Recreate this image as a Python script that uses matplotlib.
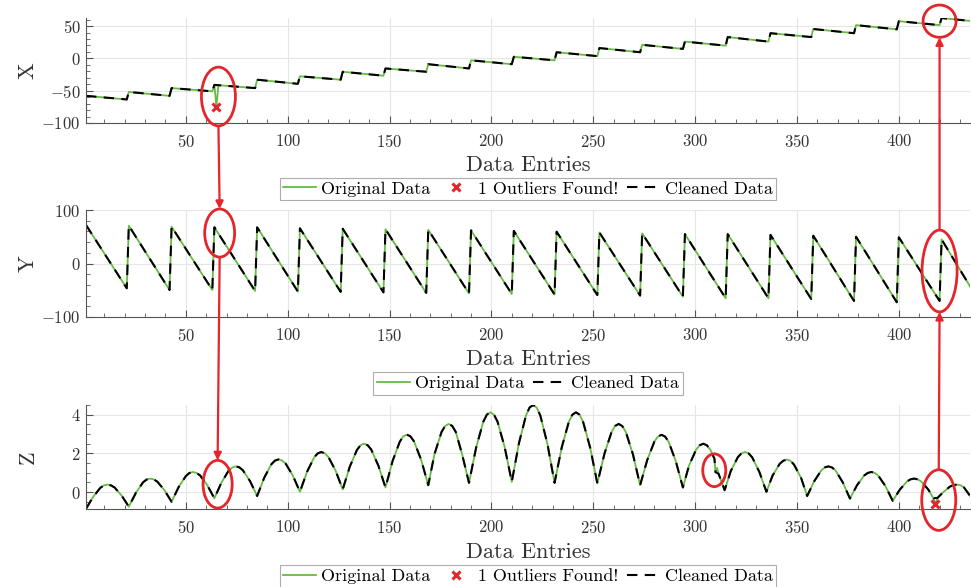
import numpy as np
import matplotlib
matplotlib.use("Agg")
import matplotlib.pyplot as plt
from matplotlib.patches import Ellipse, ConnectionPatch
from matplotlib.ticker import MultipleLocator

plt.rcParams['font.family'] = 'serif'
plt.rcParams['font.serif'] = ['cmr10', 'DejaVu Serif']
plt.rcParams['mathtext.fontset'] = 'cm'
plt.rcParams['axes.unicode_minus'] = False
plt.rcParams['axes.formatter.use_mathtext'] = True

# --- datos ---
# X: escalones, cada tramo baja un poco y luego salta
seg_start = [1, 22, 43, 64, 85, 106, 127, 148, 169, 190, 211, 232, 253, 274, 295, 316, 337, 358, 379, 400, 421]
seg_end = [21, 42, 63, 84, 105, 126, 147, 168, 189, 210, 231, 252, 273, 294, 315, 336, 357, 378, 399, 420, 435]
x_ini = [-58, -52, -46, -41, -33, -27.7, -20.7, -15.6, -9, -3, 2.5, 9.5, 16, 21, 26, 33, 39, 45.5, 51.5, 57.6, 62.5]
x_fin = [-63.6, -58, -51, -46, -39.4, -33, -26.8, -20.7, -15.6, -9, -3, 3.5, 9.5, 14.7, 19.7, 26, 33, 39, 45, 51.5, 58]
x_outlier_pos = 65
x_outlier_val = -74.7

# Y: diente de sierra
y_ini = [72, 70.7, 68.8, 67.7, 67.7, 65.8, 65, 64, 63, 62, 61, 59.5, 58, 56.4, 55, 55, 53.5, 52, 50, 49, 45]
y_fin = [-46.4, -49.5, -49.5, -51.4, -52.6, -53, -54, -55, -56, -57, -58, -59, -60, -62, -65, -65, -66.4, -70, -72.5, -70, -43]

# Z: datos originales (valles, flancos y picos)
z_x = [1, 4.5, 8, 9.75, 11.5, 13.25, 15, 18.5,
       22, 25.5, 29, 30.75, 32.5, 34.25, 36, 39.5,
       43, 46.5, 50, 51.75, 53.5, 55.25, 57, 60.5,
       64, 67.5, 71, 72.75, 74.5, 76.25, 78, 81.5,
       85, 88.5, 92, 93.75, 95.5, 97.25, 99, 102.5,
       106, 109.5, 113, 114.75, 116.5, 118.25, 120, 123.5,
       127, 130.5, 134, 135.75, 137.5, 139.25, 141, 144.5,
       148, 151.5, 155, 156.75, 158.5, 160.25, 162, 165.5,
       169, 172, 175.5, 177.25, 179, 180.75, 182.5, 185.5,
       189, 192.5, 196, 197.75, 199.5, 201.25, 203, 206.5,
       210, 213.5, 217, 218.75, 220.5, 222.25, 224, 227.5,
       231, 234.5, 238, 239.75, 241.5, 243.25, 245, 248.5,
       252, 255.5, 259, 260.75, 262.5, 264.25, 266, 269.5,
       273, 276.5, 280, 281.75, 283.5, 285.25, 287, 290.5,
       294, 297, 300.5, 302.25, 304, 305.75, 307.5, 309.5, 310, 310.8, 311.5,
       314.5, 317.5, 321, 322.75, 324.5, 326.25, 328, 331.5,
       335, 338, 341.5, 343.25, 345, 346.75, 348.5, 352,
       355, 358.5, 362, 363.75, 365.5, 367.25, 369, 372.5,
       376, 379.5, 383, 384.75, 386.5, 388.25, 390, 393.5,
       397, 400.5, 404, 405.75, 407.5, 409.25, 411, 414.5,
       417, 418, 419, 421.5, 425, 426.75, 428.5, 430.25, 432, 435]
z_orig = [-0.86, -0.24, 0.22, 0.35, 0.39, 0.35, 0.24, -0.18,
          -0.75, -0.03, 0.51, 0.65, 0.70, 0.66, 0.54, 0.10,
          -0.5, 0.27, 0.83, 0.99, 1.04, 0.99, 0.86, 0.36,
          -0.32, 0.50, 1.11, 1.27, 1.33, 1.28, 1.13, 0.57,
          -0.2, 0.75, 1.44, 1.63, 1.69, 1.63, 1.47, 0.86,
          0.02, 1.05, 1.80, 2.00, 2.07, 2.00, 1.81, 1.11,
          0.14, 1.32, 2.18, 2.42, 2.5, 2.42, 2.20, 1.37,
          0.24, 1.61, 2.60, 2.88, 2.97, 2.88, 2.62, 1.67,
          0.36, 1.94, 3.10, 3.41, 3.52, 3.42, 3.11, 2.00,
          0.48, 2.30, 3.63, 4.00, 4.12, 4.00, 3.64, 2.33,
          0.53, 2.52, 3.97, 4.37, 4.5, 4.36, 3.96, 2.49,
          0.48, 2.30, 3.63, 4.00, 4.12, 4.00, 3.63, 2.29,
          0.45, 1.99, 3.11, 3.42, 3.52, 3.41, 3.10, 1.94,
          0.36, 1.66, 2.61, 2.87, 2.96, 2.87, 2.60, 1.60,
          0.24, 1.37, 2.20, 2.42, 2.5, 2.42, 2.18, 1.72, 1.03, 1.25, 0.95,
          0.1, 1.09, 1.81, 2.00, 2.07, 2.00, 1.80, 1.05,
          0.02, 0.85, 1.46, 1.62, 1.68, 1.62, 1.43, 0.74,
          -0.2, 0.57, 1.13, 1.28, 1.33, 1.27, 1.11, 0.50,
          -0.33, 0.36, 0.86, 0.99, 1.04, 0.99, 0.84, 0.30,
          -0.45, 0.13, 0.55, 0.66, 0.70, 0.66, 0.55, 0.13,
          -0.32, -0.62, -0.30, -0.03, 0.28, 0.36, 0.39, 0.36, 0.24, -0.2]
z_pico_pos = 310.8      # pequeño pico que solo tiene la señal original
z_outlier_pos = 418
z_outlier_val = -0.62
z_outlier_limpio = -0.30

# armar los vertices de los tramos
def tramos(ini, fin):
    xs, vs = [], []
    for a, b, va, vb in zip(seg_start, seg_end, ini, fin):
        xs += [a, b]
        vs += [va, vb]
    return xs, vs

xx_clean, xv_clean = tramos(x_ini, x_fin)
k = seg_start.index(64)
xx_orig = xx_clean[:2 * k + 1] + [x_outlier_pos, x_outlier_pos + 1] + xx_clean[2 * k + 1:]
xv_orig = xv_clean[:2 * k + 1] + [x_outlier_val, x_ini[k] - 0.5] + xv_clean[2 * k + 1:]
yx, yv = tramos(y_ini, y_fin)

z_clean_x = [p for p in z_x if p != z_pico_pos]
z_clean = [v for p, v in zip(z_x, z_orig) if p != z_pico_pos]
z_clean[z_clean_x.index(z_outlier_pos)] = z_outlier_limpio

verde = '#66bb44'
rojo = '#e3262c'
gris = '#555555'

fig = plt.figure(figsize=(9.71, 5.87), dpi=100)
ax1 = fig.add_axes([0.0886, 0.7905, 0.9105, 0.1788])
ax2 = fig.add_axes([0.0886, 0.4600, 0.9105, 0.1822])
ax3 = fig.add_axes([0.0886, 0.1329, 0.9105, 0.1772])

def estilo(ax, ylab, ymajor, yminor, ylim):
    ax.set_xlim(1, 435)
    ax.set_ylim(*ylim)
    ax.xaxis.set_major_locator(MultipleLocator(50))
    ax.xaxis.set_minor_locator(MultipleLocator(10))
    ax.yaxis.set_major_locator(MultipleLocator(ymajor))
    ax.yaxis.set_minor_locator(MultipleLocator(yminor))
    for s in ['top', 'right']:
        ax.spines[s].set_visible(False)
    for s in ['left', 'bottom']:
        ax.spines[s].set_color(gris)
        ax.spines[s].set_linewidth(0.8)
    ax.tick_params(which='both', direction='in', colors=gris, labelcolor='#333333', labelsize=12)
    ax.tick_params(axis='x', which='major', length=5, pad=7)
    ax.tick_params(axis='y', which='major', length=5, pad=4)
    ax.tick_params(which='minor', length=3)
    ax.grid(True, which='major', color='#e6e6e6', lw=0.8)
    ax.set_axisbelow(True)
    ax.set_ylabel(ylab, fontsize=16, color='#333333')
    ax.yaxis.set_label_coords(-0.055, 0.5)
    ax.set_xlabel('Data Entries', fontsize=16, color='#333333', va='top')

leg_kw = dict(loc='upper center', ncol=3, fontsize=13, frameon=True, fancybox=False,
              edgecolor='#999999', borderpad=0.2, handlelength=1.8, handletextpad=0.3,
              columnspacing=0.5, borderaxespad=0.0)

# X
l1, = ax1.plot(xx_orig, xv_orig, color=verde, lw=1.3)
l2, = ax1.plot(xx_clean, xv_clean, color='black', lw=1.5, ls=(0, (5, 3.5)))
l3, = ax1.plot([x_outlier_pos], [x_outlier_val], 'x', color=rojo, ms=6, mew=2.2)
estilo(ax1, 'X', 50, 10, (-100, 62.5))
ax1.xaxis.set_label_coords(0.5, -0.31)
leg = ax1.legend([l1, l3, l2], ['Original Data', '1 Outliers Found!', 'Cleaned Data'],
                 bbox_to_anchor=(0.5, -0.52), **leg_kw)
leg.get_frame().set_linewidth(0.8)

# Y
m1, = ax2.plot(yx, yv, color=verde, lw=1.3)
m2, = ax2.plot(yx, yv, color='black', lw=1.5, ls=(0, (5, 3.5)))
estilo(ax2, 'Y', 100, 20, (-100, 100))
ax2.xaxis.set_label_coords(0.5, -0.305)
leg = ax2.legend([m1, m2], ['Original Data', 'Cleaned Data'],
                 bbox_to_anchor=(0.5, -0.514), **leg_kw)
leg.get_frame().set_linewidth(0.8)

# Z
n1, = ax3.plot(z_x, z_orig, color=verde, lw=1.3)
n2, = ax3.plot(z_clean_x, z_clean, color='black', lw=1.5, ls=(0, (5, 3.5)))
n3, = ax3.plot([z_outlier_pos], [z_outlier_val], 'x', color=rojo, ms=6, mew=2.2)
estilo(ax3, 'Z', 2, 0.5, (-0.87, 4.5))
ax3.xaxis.set_label_coords(0.5, -0.32)
leg = ax3.legend([n1, n3, n2], ['Original Data', '1 Outliers Found!', 'Cleaned Data'],
                 bbox_to_anchor=(0.5, -0.538), **leg_kw)
leg.get_frame().set_linewidth(0.8)

# --- anotaciones en rojo ---
elipses = [
    (ax1, 66, -59, 16.7, 91),
    (ax1, 420, 57.6, 16.2, 50),
    (ax2, 66.6, 57, 14.7, 90),
    (ax2, 420, -14, 17.2, 153),
    (ax3, 65.6, 0.41, 14.3, 2.46),
    (ax3, 309.4, 1.13, 11.3, 1.69),
    (ax3, 419.6, -0.41, 16.7, 3.13),
]
for ax, cx, cy, w, h in elipses:
    ax.add_patch(Ellipse((cx, cy), w, h, fill=False, ec=rojo, lw=2.0, clip_on=False, zorder=5))

flechas = [
    (ax1, (66, -104.5), ax2, (66.6, 102)),
    (ax2, (66.6, 12), ax3, (65.6, 1.64)),
    (ax2, (420, 62.5), ax1, (420, 32.6)),
    (ax3, (419.6, 1.15), ax2, (420, -90.5)),
]
for axa, pa, axb, pb in flechas:
    con = ConnectionPatch(xyA=pa, coordsA=axa.transData, xyB=pb, coordsB=axb.transData,
                          arrowstyle='-|>', mutation_scale=11, color=rojo, lw=1.6, zorder=6)
    fig.add_artist(con)

fig.savefig('out.png', dpi=100)
